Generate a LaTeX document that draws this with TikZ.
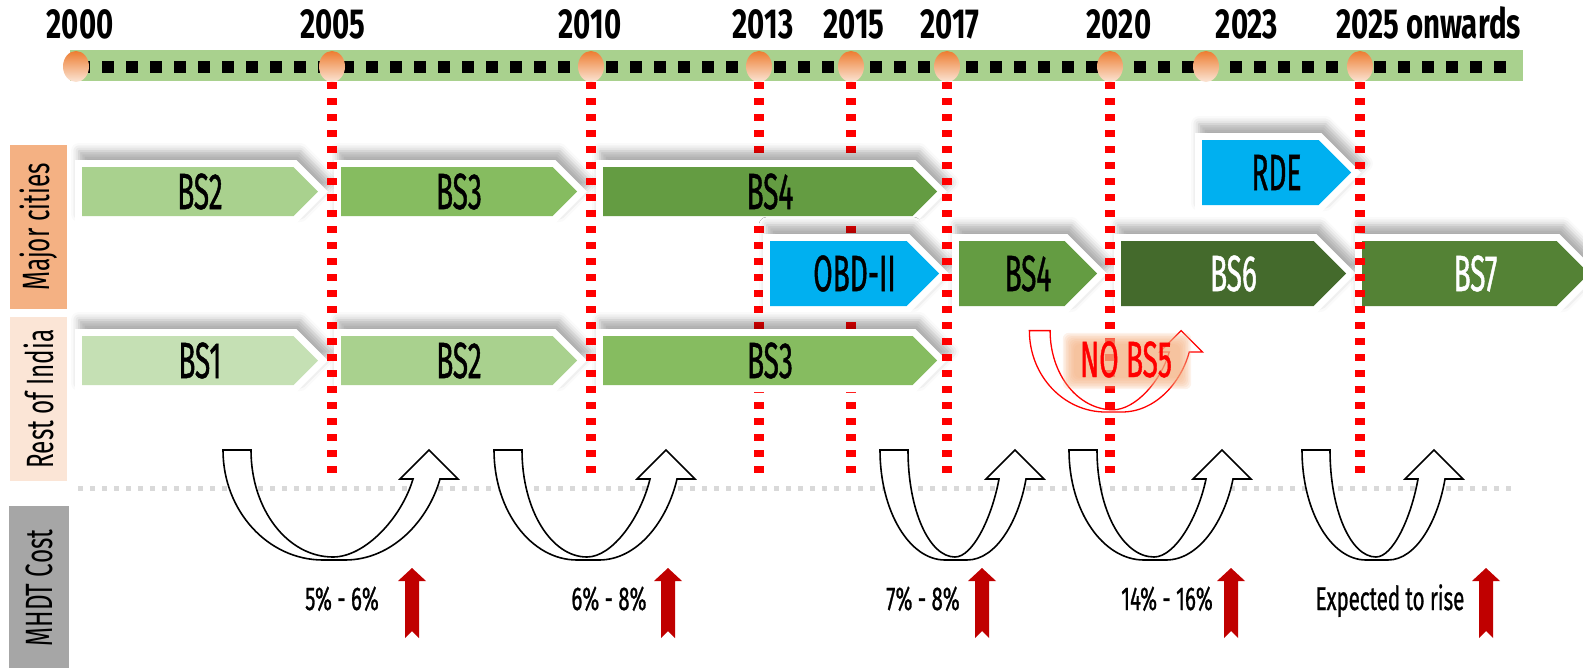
\documentclass[tikz,border=0pt]{standalone}
\usepackage{fontspec}
\setmainfont{Fira Sans}
\newfontfamily\yearfont{Fira Sans}[FakeStretch=0.7]
\newfontfamily\stagefont{Fira Sans}[FakeStretch=0.55, FakeBold=0.8]
\newfontfamily\costfont{Fira Sans}[FakeStretch=0.62, FakeBold=0.8]
\newfontfamily\lanefont{Fira Sans}[FakeStretch=0.64]
\usetikzlibrary{shapes.geometric, shadows.blur}

\definecolor{bandgreen}{HTML}{A9D18E}
\definecolor{bsone}{HTML}{C5E0B4}
\definecolor{bstwo}{HTML}{A9D18E}
\definecolor{bsthree}{HTML}{86BC60}
\definecolor{bsfour}{HTML}{649C42}
\definecolor{bssix}{HTML}{446A2C}
\definecolor{bsseven}{HTML}{548235}
\definecolor{obdblue}{HTML}{00B0F0}
\definecolor{milestonedark}{HTML}{ED7D31}
\definecolor{milestonelight}{HTML}{FBE5D6}
\definecolor{cutred}{HTML}{FF0000}
\definecolor{costred}{HTML}{C00000}
\definecolor{majorfill}{HTML}{F4B183}
\definecolor{restfill}{HTML}{FBE5D6}
\definecolor{costfill}{HTML}{A6A6A6}
\definecolor{sepgray}{HTML}{D9D9D9}
\definecolor{glowfill}{HTML}{F4B183}

% stage arrow: name, left x, tip x, top y, bottom y, fill, text colour, label
\newcommand{\chevron}[8]{%
  \fill[white, stageshadow] ({#2-7},{#4-7}) -- ({#3+9.9-(#5-#4+14)/2},{#4-7})
    -- ({#3+9.9},{(#4+#5)/2}) -- ({#3+9.9-(#5-#4+14)/2},{#5+7}) -- ({#2-7},{#5+7}) -- cycle;
  \fill[#6] (#2,#4) -- ({#3-(#5-#4)/2},#4) -- (#3,{(#4+#5)/2})
    -- ({#3-(#5-#4)/2},#5) -- (#2,#5) -- cycle;
  \node[stagetext, text=#7] (#1) at ({(#2+#3)/2},{(#4+#5)/2}) {#8};
}

% u-turn arrow: style, bottom point, left reach, tip offset
\newcommand{\uturn}[4][uturn]{%
  \draw[shift={#2}, #1] (-#3,-110) .. controls (-#3,-49) and ({-10-0.55*(#3-10)},0) .. (-10,0)
    -- (12,0) .. controls ({12+0.5*(#4-1)},0) and ({#4+11-0.12*#4},-40) .. ({#4+11},-81)
    -- ({#4+29},-81) -- (#4,-110) -- ({#4-29},-81) -- ({#4-16},-81)
    .. controls ({#4-16-0.12*#4},-42) and ({0.4*(#4-16)},-3) .. (0,-3)
    .. controls ({-0.55*(#3-28)},-3) and ({28-#3},-50) .. ({28-#3},-110) -- cycle;
}

\begin{document}
\begin{tikzpicture}[x=1pt, y=-1pt,
  year/.style={anchor=base, inner sep=0pt, font=\yearfont\bfseries\fontsize{42}{42}\selectfont},
  milestone/.style={ellipse, minimum width=26pt, minimum height=31pt, inner sep=0pt,
                    top color=milestonedark, bottom color=milestonelight},
  cutline/.style={cutred, line width=10pt, dash pattern=on 7pt off 9pt},
  stageshadow/.style={blur shadow={shadow xshift=4pt, shadow yshift=9pt,
                      shadow blur radius=8pt, shadow opacity=32}},
  stagetext/.style={inner sep=0pt, font=\stagefont\fontsize{51}{51}\selectfont},
  lane/.style={rotate=90, inner sep=0pt, minimum width=164pt, minimum height=57pt,
               font=\lanefont\fontsize{38}{38}\selectfont},
  uturn/.style={draw=black, fill=white, line width=1.6pt},
  noturn/.style={draw=cutred, line width=1.3pt, scale=0.74},
  cost/.style={anchor=base, inner sep=0pt, font=\costfont\fontsize{33}{33}\selectfont},
]
  \useasboundingbox (0,0) rectangle (1583,667);

  % timeline band
  \fill[bandgreen] (70,50) rectangle (1523,81);
  \draw[line width=12pt, dash pattern=on 12pt off 12pt] (78,67) -- (1506,67);

  % milestones and years
  \foreach \yr/\mx/\tx in {2000/76/80, 2005/332/333, 2010/591/590, 2013/759/763,
                           2015/851/854, 2017/947/950, 2020/1110/1119, 2023/1206/1247}{
    \node[milestone] (m\yr) at (\mx,66.5) {};
    \node[year] (y\yr) at (\tx,38) {\yr};
  }
  \node[milestone] (m2025) at (1360,66.5) {};
  \node[year, anchor=base west] (y2025) at (1336,38) {2025 onwards};
  \coordinate (cutend) at (0,473);

  % these two run behind the stages
  \foreach \yr in {2013,2015}
    \draw[cutline] (m\yr.south) -- (m\yr.south |- cutend);

  % major cities
  \chevron{maj1}{82}{318}{167}{216}{bstwo}{black}{BS2}
  \chevron{maj2}{341}{577}{167}{216}{bsthree}{black}{BS3}
  \chevron{maj3}{603}{937}{167}{216}{bsfour}{black}{BS4}
  \chevron{rde}{1202}{1351}{140}{205}{obdblue}{black}{RDE}
  \chevron{obd}{770}{939}{241}{306}{obdblue}{black}{OBD-II}
  \chevron{maj4}{959}{1097}{241}{306}{bsfour}{black}{BS4}
  \chevron{maj6}{1121}{1346}{241}{306}{bssix}{white}{BS6}
  \chevron{maj7}{1362}{1589}{241}{306}{bsseven}{white}{BS7}
  % rest of india
  \chevron{rest1}{82}{318}{336}{385}{bsone}{black}{BS1}
  \chevron{rest2}{341}{577}{336}{385}{bstwo}{black}{BS2}
  \chevron{rest3}{603}{937}{336}{385}{bsthree}{black}{BS3}

  \foreach \yr in {2005,2010,2017,2020,2025}
    \draw[cutline] (m\yr.south) -- (m\yr.south |- cutend);

  % row headings
  \node[lane, fill=majorfill] (major) at (38.5,227) {Major cities};
  \node[lane, fill=restfill] (rest) at (38.5,399) {Rest of India};
  \node[lane, fill=costfill, minimum height=60pt] (mhdt) at (39,588) {MHDT Cost};

  \draw[sepgray, line width=5pt, dash pattern=on 5pt off 7pt] (78,488) -- (1512,488);

  % cost jumps
  \uturn{(333,560)}{110}{96}
  \uturn{(587,560)}{93}{79}
  \uturn{(955,560)}{75}{60}
  \uturn{(1154,560)}{85}{68}
  \uturn{(1376,560)}{74}{58}

  \foreach \cx in {412,668,982,1231,1486}
    \fill[costred] (\cx,568) -- ++(14,13) -- ++(-7,0) -- ++(0,57) -- ++(-7,-7)
      -- ++(-7,7) -- ++(0,-57) -- ++(-7,0) -- cycle;

  \node[cost] (c1) at (342,610) {5\% - 6\%};
  \node[cost] (c2) at (609,610) {6\% - 8\%};
  \node[cost] (c3) at (923,610) {7\% - 8\%};
  \node[cost] (c4) at (1167,610) {14\% - 16\%};
  \node[cost] (c5) at (1390,610) {Expected to rise};

  % skipped stage
  \uturn[noturn]{(1113,412)}{113}{92}
  \foreach \g in {0,...,7}
    \fill[glowfill, opacity=0.17, rounded corners=6pt]
      ({1074-\g*1.6},{344-\g*1.6}) rectangle ({1180+\g*1.6},{378+\g*1.6});
  \node[stagetext, text=cutred, anchor=base] (nobs5) at (1126,377) {NO BS5};
\end{tikzpicture}
\end{document}
